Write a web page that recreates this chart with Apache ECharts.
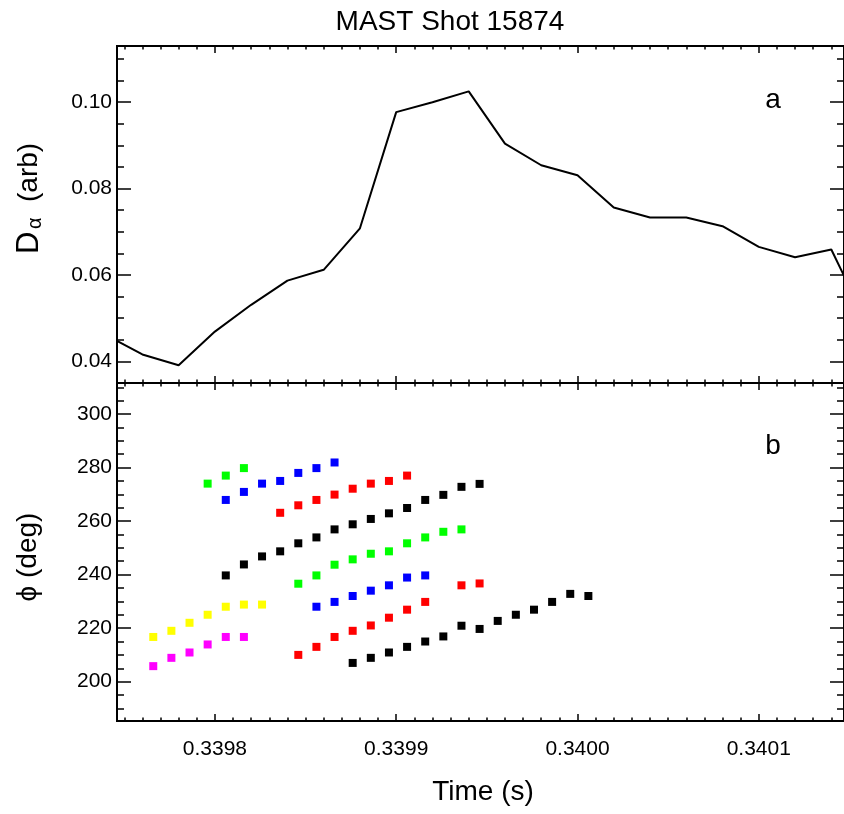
<!DOCTYPE html>
<html><head><meta charset="utf-8">
<script src="https://cdn.jsdelivr.net/npm/echarts@6/dist/echarts.min.js"></script>
<style>html,body{margin:0;padding:0;background:#fff}#c{width:844px;height:814px}</style>
</head><body><div id="c"></div>
<script>
const N = null;
// Top panel: D-alpha line
const lineTimes = [0.33974,0.33976,0.33978,0.33980,0.33982,0.33984,0.33986,0.33988,0.33990,0.33992,0.33994,
                   0.33996,0.33998,0.34000,0.34002,0.34004,0.34006,0.34008,0.34010,0.34012,0.34014,0.34016];
const dalpha = [0.0461,0.0416,0.0391,0.0469,0.0531,0.0587,0.0612,0.0708,0.0977,0.1000,0.1025,
                0.0904,0.0854,0.0831,0.0756,0.0733,0.0733,0.0713,0.0665,0.0641,0.0659,0.0485];
// Bottom panel: phase points
const phiTimes = [0.339766,0.339776,0.339786,0.339796,0.339806,0.339816,0.339826,0.339836,0.339846,0.339856,
                  0.339866,0.339876,0.339886,0.339896,0.339906,0.339916,0.339926,0.339936,0.339946,0.339956,
                  0.339966,0.339976,0.339986,0.339996,0.340006];
const green1  = [N,N,N,274.0,277.0,279.8,N,N,N,N,N,N,N,N,N,N,N,N,N,N,N,N,N,N,N];
const blue1   = [N,N,N,N,267.9,270.9,274.0,275.0,278.0,279.8,281.9,N,N,N,N,N,N,N,N,N,N,N,N,N,N];
const red1    = [N,N,N,N,N,N,N,263.1,265.9,267.9,269.9,272.1,274.0,275.0,277.0,N,N,N,N,N,N,N,N,N,N];
const black1  = [N,N,N,N,239.7,243.8,246.8,248.7,251.7,253.9,256.9,258.8,260.8,262.9,264.9,267.9,269.8,272.8,273.9,N,N,N,N,N,N];
const green2  = [N,N,N,N,N,N,N,N,236.6,239.7,243.7,245.7,247.8,248.7,251.7,253.9,256.0,256.9,N,N,N,N,N,N,N];
const blue2   = [N,N,N,N,N,N,N,N,N,228.0,229.8,232.0,234.0,236.0,238.9,239.7,N,N,N,N,N,N,N,N,N];
const red2    = [N,N,N,N,N,N,N,N,210.0,213.0,216.7,219.0,221.0,223.9,226.9,229.8,N,N,N,N,N,N,N,N,N];
const red3    = [N,N,N,N,N,N,N,N,N,N,N,N,N,N,N,N,N,236.0,236.7,N,N,N,N,N,N];
const black2  = [N,N,N,N,N,N,N,N,N,N,N,207.0,208.9,210.9,213.0,215.0,216.9,220.9,219.7,222.7,225.0,226.9,229.8,232.8,232.0];
const yellow  = [216.7,219.0,222.0,225.0,228.0,228.8,228.8,N,N,N,N,N,N,N,N,N,N,N,N,N,N,N,N,N,N];
const magenta = [205.8,208.9,210.9,213.9,216.7,216.7,N,N,N,N,N,N,N,N,N,N,N,N,N,N,N,N,N,N,N];

// Tick labels
const xMajor = [0.3398,0.3399,0.3400,0.3401];
const yTopMajor = [0.04,0.06,0.08,0.10];
const yBotMajor = [200,220,240,260,280,300];

const xMin = 0.339746, xMax = 0.340147;
const yTopMin = 0.035, yTopMax = 0.113;
const yBotMin = 185.3, yBotMax = 311.6;

const xMinor = []; for (let n = 33975; n <= 34014; n++) xMinor.push(n/100000);
const yTopMinor = []; for (let n = 7; n <= 22; n++) yTopMinor.push(n/200);
const yBotMinor = []; for (let n = 190; n <= 310; n += 5) yBotMinor.push(n);

const FONT = 'Liberation Sans';
const lineCol = '#000';

function ax(gridIndex, position, min, max, ticks, len, label, fmt, margin) {
  return {
    type: 'value', gridIndex, position, min, max,
    axisLine: {show: true, onZero: false, lineStyle: {color: lineCol, width: 2}},
    axisTick: {show: true, inside: true, length: len, customValues: ticks, lineStyle: {color: lineCol, width: 1.5}},
    axisLabel: {show: label, customValues: ticks, formatter: fmt, margin: margin,
                color: '#000', fontSize: 21, fontFamily: FONT},
    splitLine: {show: false}, minorTick: {show: false}
  };
}
const fx = v => v.toFixed(4), fyt = v => v.toFixed(2), fyb = v => String(Math.round(v));

const xAxes = [];
const yAxes = [];
[0,1].forEach(g => {
  const lab = g === 1;
  xAxes.push(ax(g, 'bottom', xMin, xMax, xMajor, 7, lab, fx, 18));
  xAxes.push(ax(g, 'bottom', xMin, xMax, xMinor, 3.5, false, fx, 18));
  xAxes.push(ax(g, 'top', xMin, xMax, xMajor, 7, false, fx, 18));
  xAxes.push(ax(g, 'top', xMin, xMax, xMinor, 3.5, false, fx, 18));
  const mn = g === 0 ? yTopMin : yBotMin, mx = g === 0 ? yTopMax : yBotMax;
  const maj = g === 0 ? yTopMajor : yBotMajor, mnr = g === 0 ? yTopMinor : yBotMinor;
  const f = g === 0 ? fyt : fyb;
  yAxes.push(ax(g, 'left', mn, mx, maj, 14, true, f, 5));
  yAxes.push(ax(g, 'left', mn, mx, mnr, 7, false, f, 5));
  yAxes.push(ax(g, 'right', mn, mx, maj, 14, false, f, 5));
  yAxes.push(ax(g, 'right', mn, mx, mnr, 7, false, f, 5));
});

function pts(arr) {
  const out = [];
  arr.forEach((v, i) => { if (v !== null) out.push([phiTimes[i], v]); });
  return out;
}
const phiSeries = [
  [green1, '#00ff00'], [blue1, '#0000ff'], [red1, '#ff0000'], [black1, '#000000'],
  [green2, '#00ff00'], [blue2, '#0000ff'], [red2, '#ff0000'], [red3, '#ff0000'],
  [black2, '#000000'], [yellow, '#ffff00'], [magenta, '#ff00ff']
].map(([arr, c]) => ({
  type: 'scatter', xAxisIndex: 4, yAxisIndex: 4, data: pts(arr),
  symbol: 'rect', symbolSize: 8, itemStyle: {color: c, opacity: 1}, silent: true
}));

const txt = (text, x, y, size) => ({
  type: 'text', x, y, silent: true,
  style: {text, fontSize: size, fontFamily: FONT, fill: '#000',
          textAlign: 'center', textVerticalAlign: 'middle', align: 'center', verticalAlign: 'middle'}
});
const ltxt = (text, x, y, size, fam) => ({
  type: 'text', x, y,
  style: {text, fontSize: size, fontFamily: fam || FONT, fill: '#000',
          textAlign: 'left', align: 'left', textVerticalAlign: 'middle', verticalAlign: 'middle'}
});

const chart = echarts.init(document.getElementById('c'), null, {renderer: 'canvas'});
chart.setOption({
  animation: false,
  backgroundColor: '#fff',
  grid: [
    {left: 117, top: 46, width: 730, height: 337},
    {left: 117, top: 383, width: 730, height: 338}
  ],
  xAxis: xAxes,
  yAxis: yAxes,
  series: [{
    type: 'line', xAxisIndex: 0, yAxisIndex: 0,
    data: lineTimes.map((t, i) => [t, dalpha[i]]),
    showSymbol: false, symbol: 'none', clip: true, silent: true,
    lineStyle: {color: '#000', width: 2}
  }].concat(phiSeries),
  graphic: [
    txt('MAST Shot 15874', 450, 22, 28),
    txt('Time (s)', 483, 792, 28),
    txt('a', 773, 100, 28),
    txt('b', 773, 446, 28),
    {type: 'group', x: 29, y: 254, rotation: Math.PI/2, silent: true, children: [
      ltxt('D', 0, 0, 31),
      ltxt('α', 25, 6, 20),
      ltxt('(arb)', 52, 0, 28)
    ]},
    {type: 'group', x: 28, y: 557, rotation: Math.PI/2, silent: true, children: [
      txt('ϕ (deg)', 0, 0, 28)
    ]}
  ]
});
</script></body></html>
